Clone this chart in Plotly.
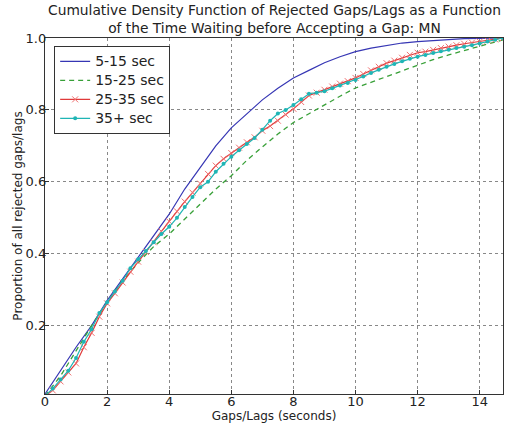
import plotly.graph_objects as go

# ---- data ----
x_half = [i * 0.5 for i in range(30)] + [14.75]
x_quarter = [i * 0.25 for i in range(60)]

blue_5_15 = [0.01, 0.075, 0.14, 0.20, 0.27, 0.33, 0.39, 0.45, 0.51, 0.58, 0.64, 0.70, 0.75, 0.79,
             0.828, 0.86, 0.889, 0.91, 0.931, 0.948, 0.962, 0.972, 0.98, 0.986, 0.99, 0.993,
             0.996, 0.998, 0.999, 1.0, 1.0]
green_15_25 = [0.005, 0.06, 0.13, 0.20, 0.265, 0.325, 0.375, 0.42, 0.455, 0.497, 0.54, 0.58, 0.617,
               0.66, 0.697, 0.733, 0.765, 0.79, 0.815, 0.838, 0.861, 0.877, 0.893, 0.91, 0.925,
               0.94, 0.953, 0.965, 0.976, 0.988, 0.995]
red_25_35 = [0.005, 0.02, 0.045, 0.07, 0.095, 0.14, 0.18, 0.225, 0.262, 0.29, 0.32, 0.35, 0.378,
             0.405, 0.432, 0.462, 0.49, 0.518, 0.545, 0.57, 0.595, 0.622, 0.645, 0.664, 0.68,
             0.695, 0.71, 0.724, 0.742, 0.755, 0.77, 0.787, 0.803, 0.822, 0.84, 0.848, 0.856,
             0.865, 0.873, 0.88, 0.889, 0.90, 0.91, 0.92, 0.93, 0.937, 0.945, 0.953, 0.959,
             0.962, 0.967, 0.972, 0.976, 0.98, 0.984, 0.987, 0.99, 0.993, 0.996, 1.0]
cyan_35_plus = [0.005, 0.025, 0.05, 0.075, 0.11, 0.155, 0.19, 0.235, 0.265, 0.295, 0.325, 0.36,
                0.385, 0.408, 0.432, 0.455, 0.475, 0.50, 0.53, 0.558, 0.585, 0.60, 0.628, 0.65,
                0.67, 0.688, 0.705, 0.722, 0.745, 0.77, 0.79, 0.80, 0.814, 0.83, 0.845, 0.848,
                0.852, 0.86, 0.868, 0.875, 0.883, 0.893, 0.903, 0.912, 0.92, 0.928, 0.935, 0.942,
                0.948, 0.953, 0.958, 0.963, 0.967, 0.972, 0.976, 0.98, 0.985, 0.99, 0.995, 1.0]

series_names = ["5-15 sec", "15-25 sec", "25-35 sec", "35+ sec"]
x_ticks = [0, 2, 4, 6, 8, 10, 12, 14]
y_ticks = [0.2, 0.4, 0.6, 0.8, 1.0]
title_lines = ["Cumulative Density Function of Rejected Gaps/Lags as a Function",
               "of the Time Waiting before Accepting a Gap: MN"]

FONT = "DejaVu Sans"
TXT = "#222222"


def lg(name):
    return '<span style="font-size:14px">' + name + '</span>'


fig = go.Figure()
fig.add_trace(go.Scatter(x=x_half, y=blue_5_15, mode="lines", name=lg(series_names[0]),
                         line=dict(color="#3636b4", width=1.2)))
fig.add_trace(go.Scatter(x=x_half, y=green_15_25, mode="lines", name=lg(series_names[1]),
                         line=dict(color="#38a038", width=1.3, dash="5px,4px")))
fig.add_trace(go.Scatter(x=x_quarter, y=red_25_35, mode="lines+markers", name=lg(series_names[2]),
                         line=dict(color="#e03a3a", width=1.2),
                         marker=dict(symbol="x-thin", size=6, line=dict(color="#f07070", width=1))))
fig.add_trace(go.Scatter(x=x_quarter, y=cyan_35_plus, mode="lines+markers", name=lg(series_names[3]),
                         line=dict(color="#1fb5b5", width=1.2),
                         marker=dict(symbol="circle", size=4, color="#1fb5b5")))

axis_common = dict(showline=True, linecolor="#333333", linewidth=1.3, mirror=True,
                   ticks="inside", ticklen=4, tickcolor="#333333",
                   showgrid=True, gridcolor="#888888", griddash="dot", gridwidth=1,
                   zeroline=False, automargin=False,
                   tickfont=dict(family=FONT, size=13, color=TXT))

fig.update_xaxes(range=[0, 14.75], tickvals=x_ticks, ticklabelstandoff=-5,
                 title=dict(text="Gaps/Lags (seconds)", font=dict(family=FONT, size=12, color=TXT),
                            standoff=3),
                 **axis_common)
fig.update_yaxes(range=[0.01, 1.0], tickvals=y_ticks, tickformat=".1f", ticklabelstandoff=-5,
                 title=dict(text="Proportion of all rejected gaps/lags",
                            font=dict(family=FONT, size=12, color=TXT), standoff=0),
                 **axis_common)

fig.add_annotation(text="<br>".join(title_lines), xref="paper", yref="paper", x=0.5, y=1.0,
                   xanchor="center", yanchor="middle", yshift=19, showarrow=False,
                   borderpad=0, font=dict(family=FONT, size=13.8, color=TXT))

fig.update_layout(
    width=507, height=431,
    margin=dict(l=45, r=4, t=38, b=37),
    paper_bgcolor="white", plot_bgcolor="white",
    legend=dict(x=0.02, y=0.978, xanchor="left", yanchor="top",
                bgcolor="white", bordercolor="#333333", borderwidth=1,
                font=dict(family=FONT, size=12, color=TXT),
                tracegroupgap=0, itemwidth=30),
    showlegend=True,
)

fig.write_html("out.html", config={"displayModeBar": False},
               post_script="document.body.style.margin='0';document.body.style.overflow='hidden';")
